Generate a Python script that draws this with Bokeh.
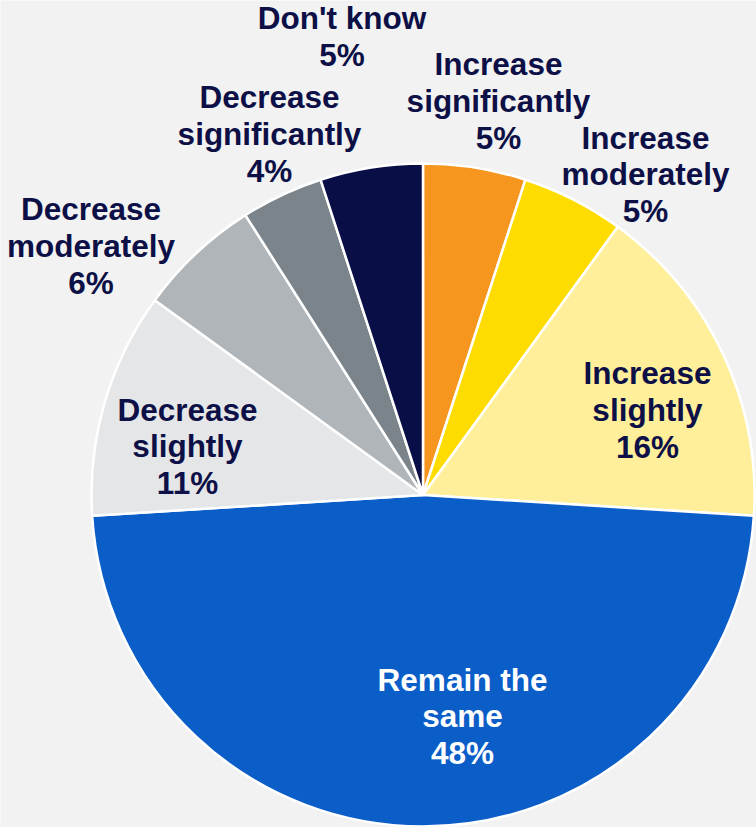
from math import pi

from bokeh.core.properties import value
from bokeh.embed import file_html
from bokeh.models import ColumnDataSource, Range1d
from bokeh.plotting import figure
from bokeh.resources import INLINE

# Survey answers, in clockwise order starting at 12 o'clock
categories = [
    "Increase\nsignificantly",
    "Increase\nmoderately",
    "Increase\nslightly",
    "Remain the\nsame",
    "Decrease\nslightly",
    "Decrease\nmoderately",
    "Decrease\nsignificantly",
    "Don't know",
]
shares = [5, 5, 16, 48, 11, 6, 4, 5]
colors = ["#F6961E", "#FFDC00", "#FFEF9B", "#0B5DC8",
          "#E5E6E8", "#B0B5B9", "#7A848A", "#0A0E46"]
label_colors = ["#0D1046"] * 3 + ["#FFFFFF"] + ["#0D1046"] * 4

# Label placement (page pixels: centre x, centre y of the first line)
label_x = [498, 645, 647, 462, 187, 90.5, 269, 341.5]
label_y = [64, 137.5, 373, 679.5, 409.5, 209, 97, 18]

W, H = 756, 827
CX, CY, R = 422.5, 494.5, 331.5
LINE_STEP = 36.8
BASE_SHIFT = -0.5   # offset from the line centre to the text anchor
FONT = "Liberation Sans"

total = float(sum(shares))
starts, ends = [], []
acc = 0.0
for s in shares:
    a0 = pi / 2 - 2 * pi * acc / total
    acc += s
    a1 = pi / 2 - 2 * pi * acc / total
    # wedges are drawn anticlockwise, so the later edge is the start
    starts.append(a1)
    ends.append(a0)

wedges = ColumnDataSource(dict(start=starts, end=ends, color=colors))

p = figure(width=W, height=H, x_range=Range1d(0, W), y_range=Range1d(0, H),
           output_backend="svg", toolbar_location=None, min_border=0)
p.axis.visible = False
p.grid.visible = False
p.outline_line_color = None
p.background_fill_color = "#F2F2F2"
p.border_fill_color = "#F2F2F2"

p.wedge(x=CX, y=H - CY, radius=R, start_angle="start", end_angle="end",
        fill_color="color", line_color="white", line_width=2.5,
        source=wedges)

# Labels: category lines followed by the percentage
tx, ty, tt, tc = [], [], [], []
for name, share, x, y0, c in zip(categories, shares, label_x, label_y, label_colors):
    lines = name.split("\n") + [f"{share}%"]
    for i, line in enumerate(lines):
        tx.append(x)
        ty.append(H - (y0 + i * LINE_STEP + BASE_SHIFT))
        tt.append(line)
        tc.append(c)

labels = ColumnDataSource(dict(x=tx, y=ty, text=tt, color=tc))
p.text(x="x", y="y", text="text", text_color="color", source=labels,
       text_align="center", text_baseline="alphabetic",
       text_font=value(FONT), text_font_style="bold", text_font_size="31.5px")

with open("out.html", "w") as f:
    f.write(file_html(p, INLINE))
